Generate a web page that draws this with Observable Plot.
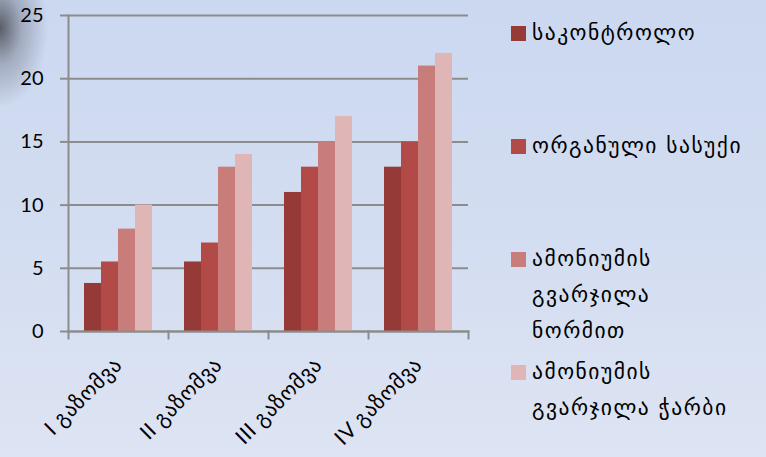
<!DOCTYPE html>
<html>
<head>
<meta charset="utf-8">
<script src="https://cdn.jsdelivr.net/npm/d3@7"></script>
<script src="https://cdn.jsdelivr.net/npm/@observablehq/plot@0.6"></script>
<style>
  html, body { margin: 0; padding: 0; }
  #wrap {
    position: relative; width: 766px; height: 457px; overflow: hidden;
    background:
      radial-gradient(ellipse 48px 80px at 0px 28px, rgba(70,72,80,0.85), rgba(110,115,130,0.45) 45%, rgba(200,210,230,0) 100%),
      linear-gradient(to bottom, #cbd8f0 0%, #d3ddf1 50%, #dde4f3 100%);
    font-family: Lato, "DejaVu Sans", sans-serif;
  }
  #wrap svg { position: absolute; left: 0; top: 0; }
  #wrap svg g[aria-label="fx-axis tick label"] text { letter-spacing: 0.6px; }
  .leg { position: absolute; left: 511px; font-size: 21.5px; line-height: 36px; letter-spacing: 1.5px; color: #000; white-space: nowrap; font-family: "DejaVu Sans", sans-serif; }
  .leg .sw { position: absolute; left: 0; top: 11px; width: 15px; height: 15px; }
  .leg .tx { position: absolute; left: 21px; top: 0; }
</style>
</head>
<body>
<div id="wrap"></div>
<script>
const groups = ["I გაზომვა", "II გაზომვა", "III გაზომვა", "IV გაზომვა"];
const series = ["საკონტროლო", "ორგანული სასუქი", "ამონიუმის გვარჯილა ნორმით", "ამონიუმის გვარჯილა ჭარბი"];
const legendLines = [["საკონტროლო"], ["ორგანული სასუქი"], ["ამონიუმის", "გვარჯილა", "ნორმით"], ["ამონიუმის", "გვარჯილა ჭარბი"]];
const s1 = [3.8, 5.5, 11, 13];
const s2 = [5.5, 7, 13, 15];
const s3 = [8.1, 13, 15, 21];
const s4 = [10, 14, 17, 22];
const yTicks = [0, 5, 10, 15, 20, 25];
const colors = ["#963a38", "#b24a47", "#c97d7b", "#dfb5b5"];
const legendTops = [15, 128, 241, 354];

const allSeries = [s1, s2, s3, s4];
const rows = [];
groups.forEach((g, gi) => series.forEach((s, si) => rows.push({group: g, series: s, value: allSeries[si][gi]})));

const W = 766, H = 457, mT = 15, mB = 126, mL = 68, mR = 298;
const plotH = H - mT - mB;
const axisColor = "#8c8c8c";

const chart = Plot.plot({
  width: W, height: H,
  marginLeft: mL, marginRight: mR, marginTop: mT, marginBottom: mB,
  style: {background: "transparent", fontFamily: 'Lato, "DejaVu Sans", sans-serif', overflow: "visible"},
  fx: {domain: groups, padding: 0, label: null},
  x: {domain: series, paddingInner: 0, paddingOuter: 0.78, axis: null},
  y: {domain: [0, 25], label: null},
  color: {domain: series, range: colors},
  marks: [
    Plot.gridY(yTicks, {stroke: axisColor, strokeOpacity: 1, strokeWidth: 2}),
    Plot.barY(rows, {fx: "group", x: "series", y: "value", fill: "series"}),
    Plot.frame({anchor: "left", facetAnchor: "left", stroke: axisColor, strokeWidth: 2}),
    Plot.frame({anchor: "bottom", stroke: axisColor, strokeWidth: 2}),
    Plot.frame({anchor: "left", insetTop: plotH, insetBottom: -7, stroke: axisColor, strokeWidth: 2}),
    Plot.frame({anchor: "right", facetAnchor: "right", insetTop: plotH, insetBottom: -7, stroke: axisColor, strokeWidth: 2}),
    Plot.axisY({ticks: yTicks, tickSize: 8, tickPadding: 17, fontSize: 20, stroke: axisColor, strokeWidth: 2, color: "#000", label: null}),
    Plot.axisFx({anchor: "bottom", tickRotate: -45, tickSize: 0, tickPadding: 30, fontSize: 21, color: "#000", label: null})
  ]
});
const wrap = document.getElementById("wrap");
wrap.appendChild(chart);

legendLines.forEach((lines, i) => {
  const d = document.createElement("div");
  d.className = "leg";
  d.style.top = legendTops[i] + "px";
  const sw = document.createElement("div");
  sw.className = "sw";
  sw.style.background = colors[i];
  const tx = document.createElement("div");
  tx.className = "tx";
  tx.innerHTML = lines.join("<br>");
  d.appendChild(sw); d.appendChild(tx);
  wrap.appendChild(d);
});
</script>
</body>
</html>
